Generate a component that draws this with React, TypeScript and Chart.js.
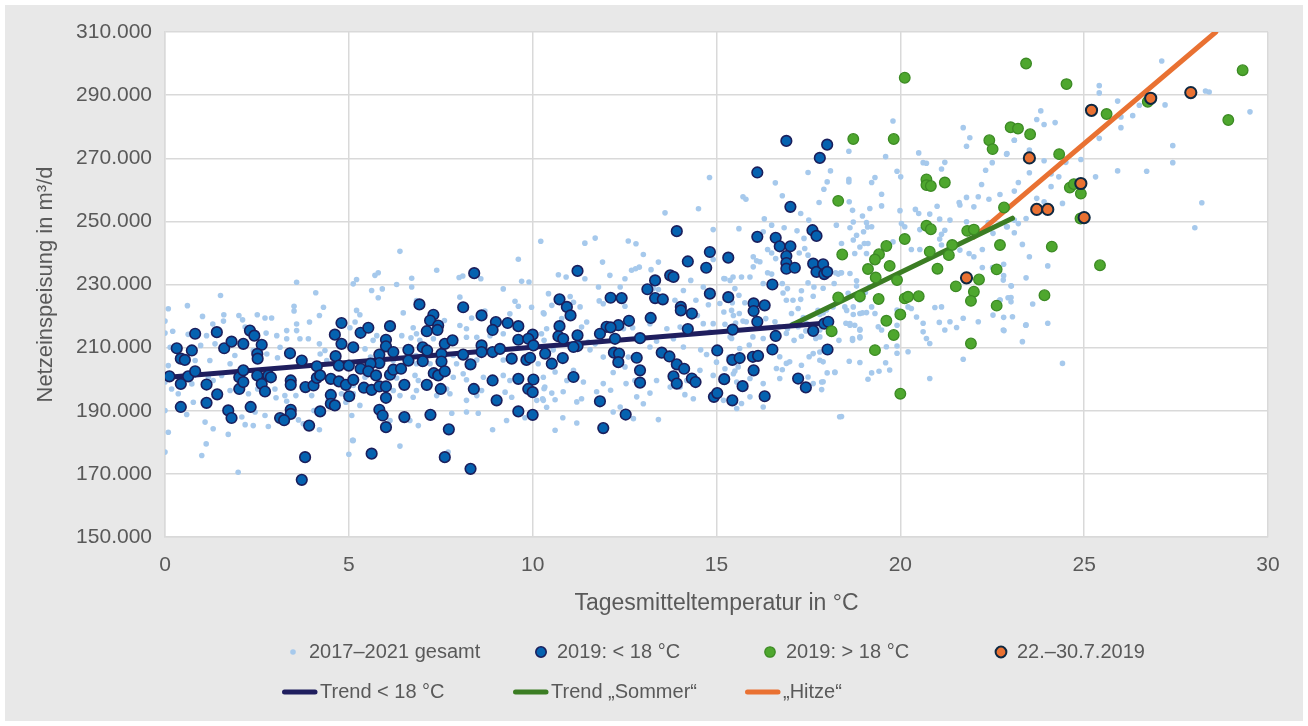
import { useEffect, useRef } from 'react';
import { Chart, registerables } from 'chart.js';

Chart.register(...registerables);

// ---------- Texts ----------
const seriesLabels = [
  '2017–2021 gesamt',
  '2019: < 18 °C',
  '2019: > 18 °C',
  '22.–30.7.2019',
  'Trend < 18 °C',
  'Trend „Sommer“',
  '„Hitze“',
];
const xAxisTitle = 'Tagesmitteltemperatur in °C';
const yAxisTitle = 'Netzeinspeisung in m³/d';
const xTickValues = [0, 5, 10, 15, 20, 25, 30];
const yTickValues = [150, 170, 190, 210, 230, 250, 270, 290, 310]; // in 1000 m³/d

// ---------- Data: [Tagesmitteltemperatur °C, Netzeinspeisung 1000 m³/d] ----------
const gesamtKalt: number[][] = [
  [3.58,230.7],[5.12,230.2],[1.51,226.5],[4.1,227.4],[0.09,222.3],[0.61,223.3],[3.51,223.1],[3.51,221.6],[4.31,222.8],[1.02,219.9],
  [1.6,220.4],[2.01,220.2],[2.11,218.8],[2.51,220.4],[2.72,219.4],[2.9,219.4],[4.2,220.2],[0,218.4],[1.3,217.5],[1.59,218.4],
  [2.18,216.5],[3.31,215.4],[3.58,217.5],[3.93,218.1],[0,214.6],[0.21,215.2],[0.63,214.2],[1.13,213.8],[2.75,214.6],[3.04,213.8],
  [3.58,215.4],[3.67,212.8],[3.9,212.8],[0.14,210.1],[0.97,210.7],[1.36,211.2],[1.63,210.1],[1.9,207.5],[1.77,204.9],[1.22,205.9],
  [2.4,209.1],[2.77,208.0],[3.13,210.1],[3.31,212.8],[3.06,206.8],[4.2,211.2],[4.22,208.0],[4.4,205.9],[4.35,209.1],[0.82,205.9],
  [0.09,204.3],[0,199.1],[0.18,196.9],[0.36,195.4],[0.73,198.5],[1.18,200.6],[1.54,201.2],[1.77,196.4],[1.31,199.6],[2.27,195.4],
  [2.52,196.9],[2.99,196.9],[3.26,194.8],[3.02,194.1],[3.31,193.0],[3.56,194.8],[3.99,194.8],[4.44,193.3],[4.92,192.7],[4.8,195.4],
  [5.12,195.4],[0.77,192.7],[1.04,193.0],[0,190.1],[0.59,188.8],[1.09,186.4],[1.31,184.3],[1.72,182.5],[2.09,188.0],[2.45,189.6],
  [2.72,188.5],[2.18,185.6],[2.4,185.3],[2.81,185.0],[3.63,187.1],[4.2,184.0],[4.05,190.1],[0.09,183.2],[0,176.9],[1.12,179.5],
  [1.0,175.8],[1.99,170.5],[5.1,180.6],[5.0,176.2],[3.76,185.9],
  [5.62,228.1],[5.91,228.6],[6.3,230.0],[6.71,229.2],[5.8,225.8],[5.21,221.8],[5.3,220.4],[6.48,221.0],[6.84,224.9],[8.02,226.0],
  [9.2,228.6],[9.52,224.7],[9.61,223.1],[9.97,222.8],[9.38,220.7],[8.7,221.6],[10.31,220.7],[8.34,219.4],[8.2,216.0],[8.02,217.0],
  [7.6,218.6],[6.75,216.3],[5.17,218.1],[5.03,216.3],[5.66,212.3],[5.76,213.8],[6.44,213.8],[6.69,213.1],[6.84,214.4],[6.93,212.3],
  [7.3,212.8],[8.2,213.3],[8.48,213.3],[8.84,213.8],[9.2,214.4],[10.24,214.4],[5.44,209.6],[5.59,207.0],[6.21,205.9],[6.83,207.5],
  [6.84,204.9],[7.21,204.9],[7.84,207.5],[7.93,204.9],[8.2,207.0],[8.48,206.1],[9.2,206.1],[10.15,204.9],[5.21,199.6],[5.12,198.0],
  [5.44,200.6],[6.3,200.4],[6.8,201.2],[6.89,199.6],[7.84,200.6],[8.2,199.8],[8.11,201.7],[8.66,200.6],[9.2,201.2],[9.38,199.6],
  [10.29,200.6],[10.33,197.5],[5.12,195.4],[5.3,191.7],[6.21,196.4],[6.39,194.8],[6.75,194.3],[6.84,196.4],[7.39,194.8],[7.66,196.9],
  [7.75,195.4],[8.2,193.3],[8.48,194.8],[8.61,196.4],[9.25,195.9],[9.43,194.3],[10.11,193.3],[10.29,193.3],[5.08,188.5],[6.12,186.9],
  [6.66,186.9],[6.89,185.3],[7.8,189.2],[8.2,189.6],[8.52,189.2],[8.91,184.0],[9.29,186.9],[5.12,180.6],[6.39,178.8],[7.7,176.9],
  [9.79,187.8],[10.38,191.1],[6.39,240.5],[5.21,231.6],[5.71,232.9],[5.8,233.7],[6.71,232.0],[7.39,234.5],[8.0,232.2],[8.1,232.7],
  [8.59,231.8],[9.61,238.0],[9.7,231.0],[9.9,230.8],
];
const gesamtMittel: number[][] = [
  [13.6,252.7],[14.51,254.0],[14.91,247.4],[10.22,243.7],[11.42,243.1],[11.7,244.7],[12.6,243.8],[12.81,242.9],[13.01,239.5],[11.9,237.1],
  [12.69,234.5],[12.8,235.0],[12.9,235.5],[13.22,234.7],[13.42,237.1],[14.3,231.3],[14.91,237.9],[15.23,231.8],[15.37,231.3],[14.64,229.2],
  [10.7,233.1],[10.91,232.4],[11.42,231.8],[12.1,232.9],[12.51,231.8],[10.43,227.1],[10.29,221.0],[10.52,223.4],[11.02,226.2],[11.11,224.4],
  [11.29,222.9],[11.79,229.2],[11.81,224.8],[11.92,223.9],[12.38,229.2],[12.51,223.1],[13.28,228.7],[13.42,228.4],[13.55,224.4],[13.87,225.0],
  [14.44,225.0],[14.1,228.1],[14.78,223.6],[15.41,221.8],[15.46,220.2],[15.23,217.4],[14.91,217.6],[14.48,220.2],[14.64,217.6],[14.01,216.5],
  [13.65,216.0],[13.19,217.6],[12.72,216.3],[12.47,216.0],[11.47,218.1],[11.33,216.5],[10.79,219.2],[10.38,216.0],[10.31,212.3],[10.56,209.3],
  [11.51,211.8],[11.56,209.3],[11.7,211.2],[11.92,207.0],[12.6,207.0],[12.51,203.9],[13.19,210.2],[13.37,212.0],[13.83,212.8],[14.1,210.2],
  [14.57,209.3],[14.73,207.8],[15.0,205.4],[15.34,207.0],[15.23,203.3],[14.55,202.8],[14.91,201.2],[15.46,201.7],[15.55,199.1],[15.19,193.3],
  [15.55,190.7],[14.19,199.6],[13.74,197.5],[13.37,199.6],[13.19,195.6],[12.78,199.6],[12.54,198.6],[12.19,202.1],[11.92,198.6],[12.12,196.5],
  [11.74,196.0],[11.38,199.1],[10.93,199.6],[11.11,202.8],[10.61,202.3],[10.31,197.0],[10.52,195.6],[10.83,196.0],[10.61,193.5],[10.27,193.8],
  [11.2,192.8],[11.33,193.8],[11.9,193.8],[13.01,192.2],[12.38,191.2],[12.83,194.4],[12.19,189.6],[12.74,187.5],[13.42,187.2],[10.82,187.8],
  [11.2,186.1],[10.61,183.8],[15.37,213.4],[14.82,214.9],[14.01,197.5],[14.37,193.8],[14.14,195.1],[14.81,263.9],
];
const gesamtWarm: number[][] = [
  [18.6,272.2],[18.1,266.0],[17.49,265.5],[18.01,262.5],[17.92,260.2],[16.6,262.2],[15.72,257.8],[15.8,257.0],[16.79,258.1],[17.29,252.5],
  [17.79,256.0],[18.61,256.2],[18.7,253.5],[16.3,250.8],[16.5,248.8],[15.61,247.7],[16.27,246.7],[16.84,248.0],[17.51,250.4],[18.72,249.8],
  [19.11,248.2],[18.63,248.0],[18.81,245.6],[19.0,246.7],[18.9,241.9],[19.12,243.0],[19.08,239.8],[18.76,239.8],[17.19,247.0],[17.38,244.6],
  [17.4,241.4],[17.25,240.0],[17.49,239.3],[16.39,241.1],[16.0,238.8],[16.09,237.5],[16.18,237.2],[16.5,240.0],[16.61,238.2],[16.5,233.3],
  [16.39,233.7],[16.0,235.6],[15.45,232.4],[15.68,232.4],[15.91,232.4],[16.27,230.3],[16.79,230.3],[16.93,228.7],[16.81,227.3],[17.31,228.0],
  [17.49,230.5],[17.65,229.2],[17.63,226.3],[17.29,225.3],[17.08,225.0],[16.9,225.0],[17.04,220.8],[17.22,222.4],[17.36,219.5],[17.76,221.8],
  [18.24,233.7],[18.31,233.3],[18.38,233.7],[18.2,230.3],[18.81,229.5],[18.9,225.0],[18.72,222.9],[18.54,221.8],[18.9,220.8],[19.08,221.1],
  [18.63,217.6],[18.76,217.1],[18.9,215.5],[18.9,213.1],[18.7,212.3],[18.33,212.3],[18.22,214.8],[17.9,221.0],[15.2,231.9],[15.5,228.7],
  [15.61,226.6],[15.43,224.2],[15.77,224.2],[15.09,224.0],[15.2,221.3],[15.62,220.8],[15.72,218.4],[15.52,217.8],[15.41,212.9],[15.81,218.2],
  [16.34,219.2],[16.59,218.2],[16.7,216.6],[16.93,216.0],[17.08,217.4],[17.22,216.6],[17.45,217.6],[17.43,215.3],[17.11,212.3],[16.9,214.5],
  [17.31,213.6],[17.7,212.9],[16.27,212.9],[15.99,213.4],[15.89,210.8],[15.63,209.7],[16.72,207.1],[16.63,203.4],[16.79,203.0],[16.9,205.0],
  [16.99,205.5],[17.31,204.4],[17.52,207.1],[17.63,208.1],[17.81,208.6],[17.81,206.0],[17.49,200.7],[17.63,198.6],[17.86,199.1],[18.01,202.0],
  [18.22,202.1],[17.86,196.7],[16.72,200.2],[16.27,198.6],[15.91,200.2],[15.59,203.9],[15.5,202.6],[15.91,194.4],[15.68,192.3],[16.27,191.2],
  [18.35,188.1],
  [19.8,281.8],[21.71,279.7],[21.89,276.5],[21.8,273.8],[19.6,270.5],[20.5,271.7],[20.62,268.6],[20.71,268.4],[21.12,266.6],[21.21,268.7],
  [20.01,264.1],[19.91,265.9],[19.22,262.3],[19.31,263.9],[18.6,263.3],[18.6,262.5],[19.49,258.6],[19.49,254.9],[19.17,254.1],[18.97,251.7],
  [19.99,253.4],[20.41,253.8],[20.5,252.5],[20.8,252.3],[21.0,254.8],[21.6,256.0],[21.62,255.2],[21.8,257.6],[22.12,257.8],[22.0,254.6],
  [22.41,257.0],[22.32,266.2],[22.5,268.6],[22.21,261.7],[22.71,258.5],[22.9,271.5],[23.1,275.7],[19.08,249.6],[19.22,248.3],[20.03,249.3],
  [20.12,248.3],[20.53,247.4],[21.21,247.2],[21.12,245.9],[21.07,250.7],[21.35,250.4],[21.8,249.9],[22.07,246.4],[22.39,249.6],[22.52,246.2],
  [22.89,248.3],[18.72,244.1],[19.02,243.0],[19.8,243.5],[20.3,241.1],[20.53,241.1],[21.07,244.4],[21.12,242.5],[21.62,240.9],[21.87,239.8],
  [22.0,238.8],[22.23,241.1],[22.23,235.4],[22.51,235.4],[22.8,231.4],[23.02,229.5],[22.93,225.8],[22.71,225.1],[23.05,219.8],[22.8,215.6],
  [22.52,220.3],[22.0,224.8],[22.12,218.2],[21.71,219.3],[21.53,216.4],[21.35,218.2],[21.21,215.6],[21.06,218.0],[20.94,222.7],[21.12,222.9],
  [20.62,217.7],[20.62,215.0],[20.71,212.9],[20.8,211.3],[20.21,222.9],[20.3,222.4],[20.44,219.7],[19.91,221.9],[19.91,217.1],[19.91,210.5],
  [19.62,210.3],[19.49,215.6],[19.4,216.6],[19.31,220.8],[19.22,222.9],[18.97,221.0],[18.72,220.5],[18.52,217.7],[18.63,217.1],[18.9,215.8],
  [18.9,213.4],[18.7,212.9],[18.61,205.7],[18.9,205.3],[19.12,200.0],[19.22,202.0],[19.42,202.5],[19.71,202.9],[19.6,205.2],[20.21,208.7],
  [19.91,208.2],[20.8,200.2],[17.9,205.5],[18.22,202.3],[17.9,199.2],[18.4,188.2],[21.71,206.3],[18.26,248.8],[18.4,243.0],[18.1,234.6],
  [18.4,233.7],[17.9,228.8],[18.63,233.5],[18.81,231.2],[19.17,229.3],[19.05,227.5],[18.49,222.9],[18.58,227.2],[18.17,222.9],[17.99,221.9],
  [17.81,220.5],[17.81,215.6],[17.81,213.4],
];
const gesamtHeiss: number[][] = [
  [27.11,300.8],[25.41,293.0],[25.41,290.7],[25.91,288.1],[26.0,283.1],[26.0,279.7],[26.32,283.5],[26.5,286.8],[27.2,286.9],[28.3,291.3],
  [28.4,291.0],[29.51,284.7],[27.41,274.0],[27.41,268.6],[25.41,276.3],[25.91,266.0],[26.7,265.9],[28.2,255.9],[28.01,248.0],[25.31,264.1],
  [24.91,269.6],[24.5,268.7],[24.31,264.1],[24.1,265.0],[24.1,261.0],[23.91,269.2],[23.51,265.4],[23.51,272.6],[23.21,262.3],[23.1,259.6],
  [22.89,271.3],[23.1,275.7],[23.71,282.3],[23.91,280.7],[23.82,285.0],[24.21,281.3],[24.41,255.7],[23.71,257.3],[23.91,256.2],[23.42,250.9],
  [23.1,250.4],[23.21,249.3],[22.91,248.3],[23.1,246.4],[23.32,242.7],[23.51,238.8],[24.01,235.9],[22.81,236.4],[22.81,232.8],[23.42,232.1],
  [23.01,229.6],[23.01,225.9],[23.6,223.8],[23.41,217.1],[24.01,217.7],[22.81,219.6],[22.71,225.1],[23.01,224.5],[23.42,217.2],[22.82,215.4],
  [23.32,211.9],[24.41,205.0],
];

const tage2019Kalt: number[][] = [
  [0.82,214.4],[1.41,214.9],[2.31,215.4],[2.43,213.8],[0.32,209.8],[0.73,209.1],[0.43,206.5],[0.54,206.1],[1.61,209.8],[1.81,211.9],
  [2.13,211.2],[2.63,210.9],[2.51,208.0],[2.52,206.5],[3.40,208.2],[3.72,205.9],[4.13,204.1],[4.80,217.8],[4.62,214.1],[4.80,211.2],
  [5.12,210.1],[4.64,207.3],[4.73,204.3],[5.0,204.3],[0.12,200.9],[0.63,200.9],[0.82,202.5],[0.43,198.5],[1.13,198.3],[1.42,195.2],
  [0.43,191.2],[1.13,192.5],[1.72,190.1],[1.81,187.7],[2.33,191.2],[2.02,200.6],[2.02,196.9],[2.13,199.1],[2.13,202.8],[2.51,201.2],
  [2.63,198.5],[2.72,196.1],[2.81,201.2],[2.88,200.6],[3.42,199.6],[3.42,198.2],[3.82,197.5],[4.04,198.0],[4.13,200.4],[4.22,201.2],
  [4.51,200.1],[4.73,199.3],[4.92,198.2],[5.12,199.8],[4.51,195.0],[4.51,192.2],[4.62,191.7],[5.01,194.6],[4.22,189.8],[3.42,190.3],
  [3.42,189.0],[3.13,187.7],[3.24,187.0],[3.92,185.3],[3.81,175.3],[3.72,168.1],
  [6.92,223.7],[7.30,220.4],[7.21,218.6],[7.43,217.0],[7.41,215.6],[7.12,215.2],[8.11,222.8],[8.61,220.2],[9.0,218.1],[9.32,217.8],
  [9.61,216.8],[8.91,215.6],[10.0,214.1],[9.61,212.5],[9.88,212.8],[10.02,210.7],[5.32,214.7],[5.53,216.3],[6.12,216.8],[6.01,212.5],
  [6.01,210.4],[6.21,208.6],[5.83,207.8],[5.83,205.1],[5.59,204.9],[5.32,203.3],[5.53,202.5],[5.74,201.2],[6.12,201.4],[6.21,203.0],
  [6.42,203.3],[5.41,197.3],[5.62,196.6],[5.83,197.7],[6.01,197.7],[6.01,194.1],[6.51,198.2],[6.62,209.3],[6.62,205.9],[7.01,210.1],
  [7.01,205.7],[7.13,209.1],[7.52,208.0],[7.52,205.6],[7.61,211.2],[7.82,212.3],[7.31,201.9],[7.43,201.2],[7.61,202.5],[7.12,198.2],
  [7.50,196.9],[8.11,207.8],[8.31,204.7],[8.61,210.7],[8.61,208.6],[8.91,208.6],[9.11,209.6],[9.43,206.5],[8.40,196.9],[8.91,199.6],
  [9.02,193.3],[9.61,200.1],[9.83,206.1],[9.93,206.8],[10.02,199.9],[9.88,196.9],[10.0,195.9],[5.83,190.3],[5.92,188.5],[6.01,184.8],
  [6.51,188.0],[7.22,188.7],[7.72,184.1],[5.62,176.4],[7.61,175.3],[8.31,171.6],[9.61,189.8],[10.0,188.7],[8.41,233.6],
  [13.92,246.9],[11.22,234.3],[14.82,240.3],[15.32,238.5],[14.22,237.3],[14.72,235.3],[13.33,231.3],[13.74,232.9],[13.83,232.4],[13.12,228.5],
  [13.33,225.7],[13.54,225.3],[14.82,227.1],[15.32,226.0],[12.12,225.8],[12.42,225.7],[10.73,225.3],[10.93,222.9],[11.03,220.2],[14.03,222.9],
  [14.03,221.8],[14.33,220.8],[13.21,219.4],[12.62,218.5],[12.33,217.1],[12.01,216.6],[12.12,216.4],[10.73,216.8],[10.70,213.6],[10.83,212.8],
  [11.22,213.9],[11.22,210.5],[11.11,210.2],[11.83,214.4],[12.24,212.8],[12.92,213.0],[14.22,215.9],[15.44,215.7],[10.34,208.1],[10.52,204.9],
  [10.82,206.7],[12.21,208.4],[12.35,208.1],[12.33,205.4],[12.83,206.8],[12.92,202.8],[12.92,198.9],[13.51,208.4],[13.72,207.2],[13.92,204.7],
  [14.12,203.3],[13.83,200.9],[13.92,198.6],[14.33,200.2],[14.43,199.1],[15.02,209.1],[15.43,206.1],[15.21,200.0],[14.93,194.4],[15.02,195.6],
  [15.43,193.3],[11.11,200.7],[11.83,193.0],[12.53,188.8],[11.92,184.5],
  [16.90,275.5],[18.01,274.3],[17.81,270.1],[16.11,265.5],[17.01,254.6],[16.11,245.1],[16.61,244.8],[16.72,242.1],[17.01,242.1],[16.90,239.0],
  [16.90,236.8],[16.90,235.0],[17.13,235.3],[17.61,247.2],[17.72,245.4],[17.63,236.6],[17.72,234.0],[17.90,236.4],[17.93,233.3],[18.01,234.0],
  [16.52,230.0],[16.01,224.0],[16.01,221.6],[16.31,223.4],[16.11,218.2],[16.61,213.7],[17.63,215.3],[17.93,217.6],[18.04,218.2],[16.52,209.4],
  [18.02,209.4],[15.63,206.7],[15.99,207.1],[16.13,207.4],[16.01,202.8],[15.71,197.8],[17.22,200.2],[17.43,197.4],[16.31,194.6],
];

const tage2019Warm: number[][] = [
  [18.72,276.1],[19.82,276.1],[20.12,295.5],[18.31,256.5],[20.71,263.3],[20.71,261.5],[20.83,261.2],[21.21,262.3],[20.71,248.6],[20.83,247.5],
  [20.12,244.4],[19.62,242.2],[19.42,239.6],[19.31,237.9],[19.71,235.9],[19.12,234.9],[19.33,232.2],[19.91,231.4],[20.8,240.4],[21.41,242.5],
  [21.32,239.3],[21.01,235.0],[21.82,247.0],[22.0,247.4],[22.82,254.4],[22.71,242.5],[22.62,234.8],[22.14,231.6],[22.0,227.7],[21.92,224.8],
  [21.51,229.4],[22.62,223.3],[21.92,211.3],[18.31,225.9],[18.9,226.3],[19.41,225.4],[20.12,225.6],[20.21,226.1],[20.5,226.3],[20.0,220.5],
  [19.62,218.5],[19.82,214.0],[18.13,215.2],[19.31,209.2],[20.0,195.4],[22.42,275.7],[22.51,272.9],[23.0,279.8],[23.2,279.4],[18.42,239.5],
  [23.42,300.0],[24.52,293.5],[29.31,297.9],[28.92,282.1],[25.61,284.0],[26.73,287.9],[23.53,277.6],[24.32,271.3],[24.61,260.7],[24.72,261.8],
  [24.91,258.8],[24.9,250.9],[24.12,242.0],[25.43,236.1],[23.92,226.6],
];

const hitzeTage: number[][] = [
  [21.8,232.1],[23.51,270.1],[23.71,253.8],[24.01,253.8],[24.91,262.0],[25.0,251.2],[25.2,285.2],[26.81,289.0],[27.9,290.8],
];

const trendKalt: number[][] = [[0, 200.5], [18, 217.8]];
const trendSommer: number[][] = [[17.05, 217.2], [23.05, 251.0]];
const trendHitze: number[][] = [[22.0, 245.0], [28.58, 310.0]];

// ---------- Helpers ----------
const toXY = (arr: number[][]) => arr.map(([t, v]) => ({ x: t, y: v * 1000 }));
const FONT = '"Liberation Sans", Arial, sans-serif';
const TEXT = '#595959';
const GRID = '#d9d9d9';

const bgPlugin = {
  id: 'bgPlugin',
  beforeDraw(chart: any) {
    const { ctx, chartArea: a, width, height } = chart;
    ctx.save();
    ctx.fillStyle = '#ffffff';
    ctx.fillRect(0, 0, width, height);
    ctx.fillStyle = '#e8e8e8';
    ctx.fillRect(5, 5, width - 10, height - 10);
    ctx.fillStyle = '#ffffff';
    ctx.fillRect(a.left, a.top, a.right - a.left, a.bottom - a.top);
    ctx.restore();
  },
};

// legend layout: row 1 markers, row 2 line symbols
const legendMarkerX = [293, 541, 770, 1001];
const legendLineX = [282, 513, 745];
const legendRowsY = [652, 692];

const legendPlugin = {
  id: 'legendPlugin',
  afterDraw(chart: any) {
    const { ctx } = chart;
    const ds = chart.data.datasets;
    ctx.save();
    ctx.font = `20px ${FONT}`;
    ctx.textBaseline = 'middle';
    ctx.textAlign = 'left';
    for (let i = 0; i < ds.length; i++) {
      const d = ds[i];
      let textX: number;
      let y: number;
      if (i < 4) {
        const cx = legendMarkerX[i];
        y = legendRowsY[0];
        const r = i === 0 ? 2.8 : i === 3 ? 5.4 : 5.2;
        ctx.beginPath();
        ctx.arc(cx, y, r, 0, Math.PI * 2);
        ctx.fillStyle = d.backgroundColor;
        ctx.fill();
        if (d.borderWidth) {
          ctx.lineWidth = d.borderWidth;
          ctx.strokeStyle = d.borderColor;
          ctx.stroke();
        }
        textX = cx + 16;
      } else {
        const x0 = legendLineX[i - 4];
        y = legendRowsY[1];
        ctx.beginPath();
        ctx.moveTo(x0 + 2.5, y);
        ctx.lineTo(x0 + 33, y);
        ctx.lineWidth = 5;
        ctx.lineCap = 'round';
        ctx.strokeStyle = d.borderColor;
        ctx.stroke();
        textX = x0 + 38;
      }
      ctx.fillStyle = TEXT;
      ctx.fillText(d.label, textX, y);
    }
    ctx.restore();
  },
};

export default function App() {
  const ref = useRef<HTMLCanvasElement | null>(null);

  useEffect(() => {
    if (!ref.current) return;
    const chart = new Chart(ref.current, {
      type: 'scatter',
      data: {
        datasets: [
          { label: seriesLabels[0], data: toXY([...gesamtKalt, ...gesamtMittel, ...gesamtWarm, ...gesamtHeiss]), pointRadius: 2.8, backgroundColor: '#a6c9ec', borderWidth: 0, order: 10 },
          { label: seriesLabels[1], data: toXY(tage2019Kalt), pointRadius: 5.3, backgroundColor: '#0562b0', borderColor: '#1b1f5c', borderWidth: 1.6, order: 3 },
          { label: seriesLabels[2], data: toXY(tage2019Warm), pointRadius: 5.3, backgroundColor: '#4ea72e', borderColor: '#3c8a24', borderWidth: 1.3, order: 2 },
          { label: seriesLabels[3], data: toXY(hitzeTage), pointRadius: 5.6, backgroundColor: '#e97132', borderColor: '#0e2841', borderWidth: 2, order: 1 },
          { label: seriesLabels[4], data: toXY(trendKalt), showLine: true, pointRadius: 0, borderColor: '#1f1e5e', backgroundColor: '#1f1e5e', borderWidth: 5, borderCapStyle: 'round', order: 5 },
          { label: seriesLabels[5], data: toXY(trendSommer), showLine: true, pointRadius: 0, borderColor: '#3b7d23', backgroundColor: '#3b7d23', borderWidth: 5, borderCapStyle: 'round', order: 5 },
          { label: seriesLabels[6], data: toXY(trendHitze), showLine: true, pointRadius: 0, borderColor: '#e97132', backgroundColor: '#e97132', borderWidth: 5, borderCapStyle: 'round', order: 5 },
        ] as any,
      },
      options: {
        animation: false,
        responsive: false,
        events: [],
        layout: { padding: { left: 0, right: 40, top: 32, bottom: 109 } },
        plugins: { legend: { display: false }, tooltip: { enabled: false } },
        scales: {
          x: {
            type: 'linear',
            min: 0,
            max: 30,
            afterBuildTicks: (s: any) => { s.ticks = xTickValues.map((v) => ({ value: v })); },
            ticks: { color: TEXT, padding: 16, font: { family: FONT, size: 21 } },
            grid: { color: GRID, lineWidth: 1.5, drawTicks: false },
            border: { color: GRID, width: 1.5 },
            title: { display: true, text: xAxisTitle, color: TEXT, font: { family: FONT, size: 23 }, padding: { top: 0, bottom: 0 } },
            afterFit: (s: any) => { s.height = 80; },
          },
          y: {
            type: 'linear',
            min: 150000,
            max: 310000,
            afterBuildTicks: (s: any) => { s.ticks = yTickValues.map((v) => ({ value: v * 1000 })); },
            ticks: {
              color: TEXT,
              padding: 13,
              font: { family: FONT, size: 21 },
              callback: (v: any) => `${Math.round(Number(v) / 1000)}.000`,
            },
            grid: { color: GRID, lineWidth: 1.5, drawTicks: false },
            border: { color: GRID, width: 1.5 },
            title: { display: true, text: yAxisTitle, color: TEXT, font: { family: FONT, size: 22 }, padding: { top: 33, bottom: 0 } },
            afterFit: (s: any) => { s.width = 165; },
          },
        },
      } as any,
      plugins: [bgPlugin, legendPlugin],
    });
    return () => chart.destroy();
  }, []);

  return (
    <div style={{ position: 'absolute', left: 0, top: 0, width: 1308, height: 726 }}>
      <canvas ref={ref} width={1308} height={726} style={{ display: 'block', width: 1308, height: 726 }} />
    </div>
  );
}
